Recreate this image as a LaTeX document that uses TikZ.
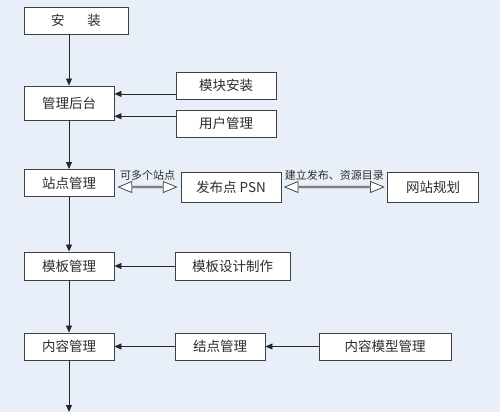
\documentclass[tikz,border=0pt]{standalone}
\usepackage{fontspec}
\setmainfont{Noto Sans CJK SC}
\usepackage{xcolor}
\usepackage{tikz}
\usetikzlibrary{arrows.meta,shapes.arrows,positioning,calc}

\definecolor{bgblue}{RGB}{232,239,249}
\definecolor{boxline}{RGB}{64,64,64}
\definecolor{txtgray}{RGB}{45,45,45}

\tikzset{
  box/.style={draw=boxline, fill=white, line width=0.9pt, minimum height=27pt, inner sep=0pt,
    font=\fontsize{13.5}{16}\selectfont, text=txtgray},
  link/.style={-{Triangle[length=7pt,width=6pt]}, line width=0.8pt, black!85},
  darrow/.style={double arrow, draw=boxline, fill=white, line width=0.75pt, inner sep=0pt,
    minimum width=11pt, double arrow head extend=2.5pt, double arrow tip angle=45},
  lbl/.style={font=\fontsize{11}{13}\selectfont, text=txtgray}
}

\begin{document}
\begin{tikzpicture}[x=1pt, y=1pt]
        \fill[bgblue] (0,0) rectangle (500,-412);
        \useasboundingbox (0,0) rectangle (500,-412);
        % main column
        \node (anzhuang) [box, minimum width=104pt] at (76,-20.5) {安\hspace{1.7em}装};
        \node (guanli) [box, minimum width=90pt, minimum height=34pt] at (69,-103) {管理后台};
        \node (zhandian) [box, minimum width=90pt] at (69,-183) {站点管理};
        \node (muban) [box, minimum width=90pt, minimum height=28pt] at (69,-266) {模板管理};
        \node (neirong) [box, minimum width=90pt] at (69,-346.5) {内容管理};
        \coordinate (bottom) at (69,-412);
        % right side
        \node (mokuai) [box, minimum width=100pt] at (226,-85.5) {模块安装};
        \node (yonghu) [box, minimum width=100pt] at (226,-123.5) {用户管理};
        \node (fabu) [box, minimum width=100pt, minimum height=30pt] at (231,-187) {发布点 PSN};
        \node (wangzhan) [box, minimum width=91pt, minimum height=30pt] at (433,-187) {网站规划};
        \node (sheji) [box, minimum width=115pt, minimum height=28pt] at (232.5,-266) {模板设计制作};
        \node (jiedian) [box, minimum width=90pt] at (220,-346.5) {结点管理};
        \node (moxing) [box, minimum width=132pt] at (385,-346.5) {内容模型管理};
        \coordinate (g1) at ($(guanli.north east)!0.24!(guanli.south east)$);
        \coordinate (g2) at ($(guanli.north east)!0.88!(guanli.south east)$);
        % arrows
        \draw[link] (anzhuang.south -| guanli) -- (guanli.north);
        \draw[link] (guanli) -- (zhandian);
        \draw[link] (zhandian) -- (muban);
        \draw[link] (muban) -- (neirong);
        \draw[link] (neirong) -- (bottom);
        \draw[link] (mokuai.west |- g1) -- (g1);
        \draw[link] (yonghu.west |- g2) -- (g2);
        \draw[link] (sheji) -- (muban);
        \draw[link] (jiedian) -- (neirong);
        \draw[link] (moxing) -- (jiedian);
        % double arrows
        \path (zhandian.east |- fabu.west) -- node (d1) [darrow, minimum height=58pt] {} (fabu.west);
        \path (fabu.east) -- node (d2) [darrow, minimum height=99pt] {} (wangzhan.west);
        \node [lbl, above=2pt of d1] {可多个站点};
        \node [lbl, above=2pt of d2] {建立发布、资源目录};
    \end{tikzpicture}
\end{document}
